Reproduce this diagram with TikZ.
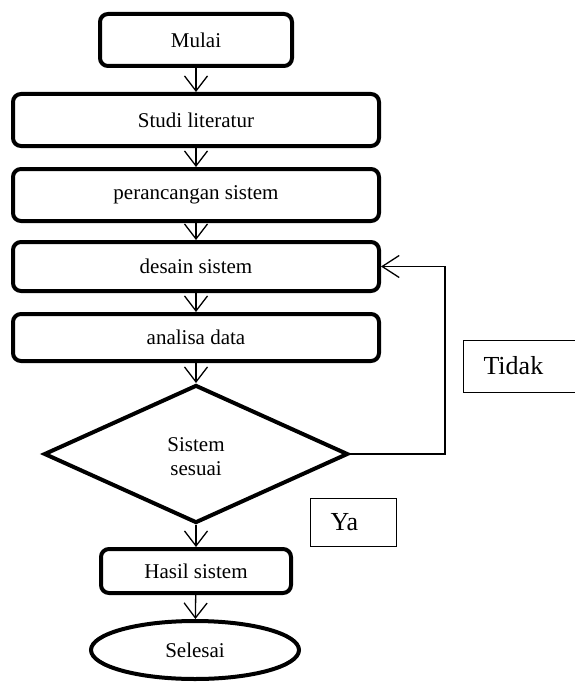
\documentclass[tikz,border=0pt]{standalone}
\usepackage{fontspec}
\setmainfont{Liberation Serif}
\usetikzlibrary{shapes.geometric,arrows.meta}
\begin{document}
\begin{tikzpicture}[x=1pt,y=-1pt,
  boxfont/.style={font=\fontsize{21}{24}\selectfont},
  proc/.style={draw, line width=4pt, rounded corners=8pt, minimum width=366pt, inner sep=0pt, boxfont},
  flow/.style={line width=1.3pt, -{Straight Barb[length=15pt,width=23pt]}},
  note/.style={draw, line width=1pt, anchor=west, inner ysep=0pt, inner xsep=20pt, align=left, font=\fontsize{26}{30}\selectfont}]
\clip (0,0) rectangle (575,682);
\node[proc, minimum width=192pt, minimum height=52pt] (mulai) at (196,40) {Mulai};
\node[proc, minimum height=52pt] (studi) at (196,120) {Studi literatur};
\node[proc, minimum height=52pt] (ranc) at (196,195) {perancangan sistem};
\node[proc, minimum height=49pt] (desain) at (196,266.5) {desain sistem};
\node[proc, minimum height=47pt] (analisa) at (196,337.5) {analisa data};
\node[diamond, draw, line width=4pt, minimum width=304pt, minimum height=138pt, inner sep=0pt, boxfont] (dia) at (196,454) {\raisebox{-5pt}[\height][\depth]{\begin{tabular}{@{}c@{}}Sistem\\sesuai\end{tabular}}};
\node[proc, minimum width=190pt, minimum height=44pt] (hasil) at (196,571) {Hasil sistem};
\node[ellipse, draw, line width=4pt, minimum width=208pt, minimum height=58pt, inner sep=0pt, boxfont] (selesai) at (195,650) {Selesai};
\node[note, text width=100pt, minimum height=52pt] (tidak) at (463,366) {Tidak};
\node[note, text width=46pt, minimum height=48pt] (ya) at (310,522) {Ya};
\draw[flow] (mulai) -- (studi);
\draw[flow] (studi) -- (ranc);
\draw[flow] (ranc) -- (desain);
\draw[flow] (desain) -- (analisa);
\draw[flow] (analisa) -- (dia);
\draw[flow] (dia) -- (hasil);
\draw[flow] (hasil) -- (selesai);
\coordinate (loopx) at (445,454);
\draw[line width=1.3pt, -{Straight Barb[length=17pt,width=22pt]}] (dia.east) -- (loopx) |- (desain.east);
\end{tikzpicture}
\end{document}
